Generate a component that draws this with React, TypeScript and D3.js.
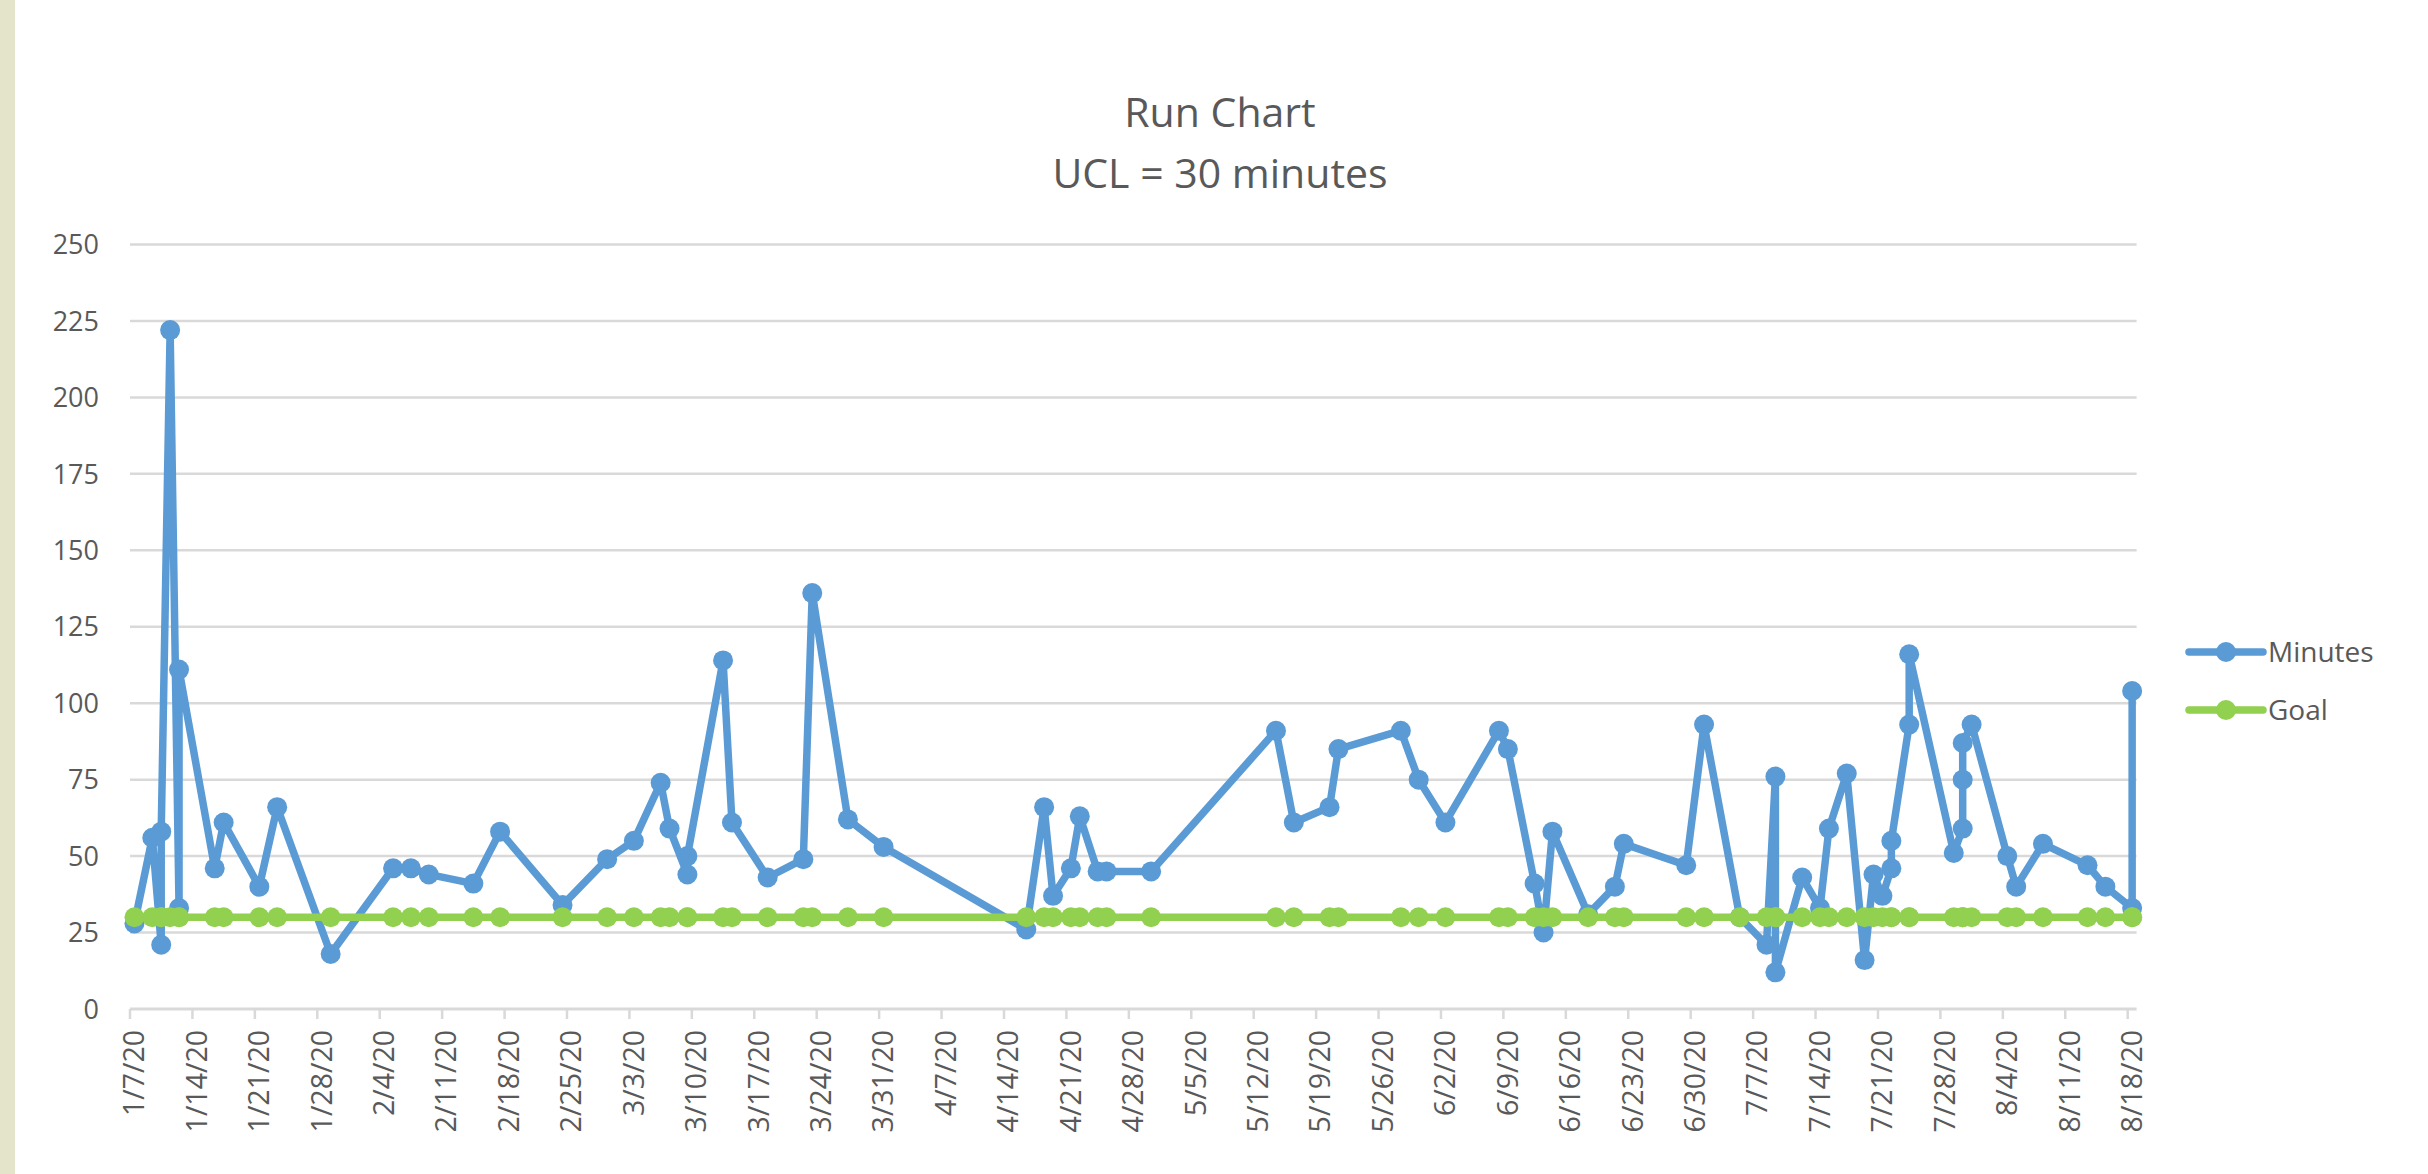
import React, { useRef, useEffect } from "react";
import { select, scaleLinear, scaleUtc, line, utcParse, utcHour } from "d3";

// run chart data
const dates = [
  "1/7/20", "1/9/20", "1/10/20", "1/10/20", "1/11/20", "1/12/20", "1/12/20", "1/16/20",
  "1/17/20", "1/21/20", "1/23/20", "1/29/20", "2/5/20", "2/7/20", "2/9/20", "2/14/20",
  "2/17/20", "2/24/20", "2/29/20", "3/3/20", "3/6/20", "3/7/20", "3/9/20", "3/9/20",
  "3/13/20", "3/14/20", "3/18/20", "3/22/20", "3/23/20", "3/27/20", "3/31/20", "4/16/20",
  "4/18/20", "4/19/20", "4/21/20", "4/22/20", "4/24/20", "4/25/20", "4/30/20", "5/14/20",
  "5/16/20", "5/20/20", "5/21/20", "5/28/20", "5/30/20", "6/2/20", "6/8/20", "6/9/20",
  "6/12/20", "6/13/20", "6/14/20", "6/18/20", "6/21/20", "6/22/20", "6/29/20", "7/1/20",
  "7/5/20", "7/8/20", "7/9/20", "7/9/20", "7/12/20", "7/14/20", "7/15/20", "7/17/20",
  "7/19/20", "7/20/20", "7/21/20", "7/22/20", "7/22/20", "7/24/20", "7/24/20", "7/29/20",
  "7/30/20", "7/30/20", "7/30/20", "7/31/20", "8/4/20", "8/5/20", "8/8/20", "8/13/20",
  "8/15/20", "8/18/20", "8/18/20",
];

const minutes = [
  28, 56, 21, 58, 222, 33, 111, 46,
  61, 40, 66, 18, 46, 46, 44, 41,
  58, 34, 49, 55, 74, 59, 44, 50,
  114, 61, 43, 49, 136, 62, 53, 26,
  66, 37, 46, 63, 45, 45, 45, 91,
  61, 66, 85, 91, 75, 61, 91, 85,
  41, 25, 58, 31, 40, 54, 47, 93,
  30, 21, 76, 12, 43, 33, 59, 77,
  16, 44, 37, 46, 55, 93, 116, 51,
  59, 75, 87, 93, 50, 40, 54, 47,
  40, 33, 104,
];

const GOAL_MINUTES = 30;

const yTicks = [0, 25, 50, 75, 100, 125, 150, 175, 200, 225, 250];

const xTickLabels = [
  "1/7/20", "1/14/20", "1/21/20", "1/28/20", "2/4/20", "2/11/20", "2/18/20", "2/25/20",
  "3/3/20", "3/10/20", "3/17/20", "3/24/20", "3/31/20", "4/7/20", "4/14/20", "4/21/20",
  "4/28/20", "5/5/20", "5/12/20", "5/19/20", "5/26/20", "6/2/20", "6/9/20", "6/16/20",
  "6/23/20", "6/30/20", "7/7/20", "7/14/20", "7/21/20", "7/28/20", "8/4/20", "8/11/20",
  "8/18/20",
];

const seriesNames = ["Minutes", "Goal"];

const WIDTH = 2428;
const HEIGHT = 1174;
const BLUE = "#5B9BD5";
const GREEN = "#92D050";
const GRID = "#D9D9D9";
const TEXT = "#595959";
const FONT = "'Open Sans', 'Noto Sans', sans-serif";
const LINE_W = 7.5;
const DOT_R = 10;

function RunChart() {
  const svgRef = useRef<SVGSVGElement>(null);

  useEffect(() => {
    const svg = select(svgRef.current);
    svg.selectAll("*").remove();

    const parse = utcParse("%m/%d/%y");
    const points = dates.map((d, i) => ({
      date: parse(d) as Date,
      minutes: minutes[i],
      goal: GOAL_MINUTES,
    }));

    const first = parse(xTickLabels[0]) as Date;
    const last = parse(xTickLabels[xTickLabels.length - 1]) as Date;

    // excel date axis: each day is a slot, points sit in the middle of it
    const xScale = scaleUtc()
      .domain([first, utcHour.offset(last, 24)])
      .range([130, 2136.6]);
    const yScale = scaleLinear().domain([0, 250]).range([1009, 244.5]);
    const px = (d: Date) => xScale(utcHour.offset(d, 12));

    // left page strip
    svg.append("rect")
      .attr("x", 0).attr("y", 0)
      .attr("width", 15).attr("height", HEIGHT)
      .attr("fill", "#E4E4CB");

    // title
    const title = svg.append("g")
      .attr("font-family", FONT)
      .attr("font-size", 41)
      .attr("fill", TEXT)
      .attr("text-anchor", "middle");
    title.append("text").attr("x", 1220).attr("y", 127).text("Run Chart");
    title.append("text").attr("x", 1220).attr("y", 188).text("UCL = 30 minutes");

    // gridlines
    svg.selectAll(".grid")
      .data(yTicks.filter(t => t > 0))
      .join("line")
      .attr("class", "grid")
      .attr("x1", xScale.range()[0])
      .attr("x2", xScale.range()[1])
      .attr("y1", t => yScale(t))
      .attr("y2", t => yScale(t))
      .attr("stroke", GRID)
      .attr("stroke-width", 2.5);

    // x axis line + ticks
    svg.append("line")
      .attr("x1", xScale.range()[0])
      .attr("x2", xScale.range()[1])
      .attr("y1", yScale(0))
      .attr("y2", yScale(0))
      .attr("stroke", GRID)
      .attr("stroke-width", 3);

    svg.selectAll(".xtick")
      .data(xTickLabels)
      .join("line")
      .attr("class", "xtick")
      .attr("x1", d => xScale(parse(d) as Date))
      .attr("x2", d => xScale(parse(d) as Date))
      .attr("y1", yScale(0))
      .attr("y2", yScale(0) + 10)
      .attr("stroke", GRID)
      .attr("stroke-width", 2.5);

    svg.selectAll(".xlabel")
      .data(xTickLabels)
      .join("text")
      .attr("class", "xlabel")
      .attr("transform", d => `translate(${xScale(parse(d) as Date)},1030) rotate(-90)`)
      .attr("text-anchor", "end")
      .attr("dy", "0.5em")
      .attr("font-family", FONT)
      .attr("font-size", 28.5)
      .attr("fill", TEXT)
      .text(d => d);

    svg.selectAll(".ylabel")
      .data(yTicks)
      .join("text")
      .attr("class", "ylabel")
      .attr("x", 99)
      .attr("y", t => yScale(t))
      .attr("dy", "0.36em")
      .attr("text-anchor", "end")
      .attr("font-family", FONT)
      .attr("font-size", 27)
      .attr("fill", TEXT)
      .text(t => t);

    // series
    const series = [
      { key: "minutes", color: BLUE },
      { key: "goal", color: GREEN },
    ];

    series.forEach(s => {
      const lineGen = line<any>()
        .x(p => px(p.date))
        .y(p => yScale(p[s.key]));

      svg.append("path")
        .datum(points)
        .attr("d", lineGen)
        .attr("fill", "none")
        .attr("stroke", s.color)
        .attr("stroke-width", LINE_W)
        .attr("stroke-linejoin", "round")
        .attr("stroke-linecap", "round");

      svg.append("g")
        .selectAll("circle")
        .data(points)
        .join("circle")
        .attr("cx", p => px(p.date))
        .attr("cy", p => yScale(p[s.key]))
        .attr("r", DOT_R)
        .attr("fill", s.color);
    });

    // legend
    const legend = svg.append("g")
      .selectAll("g")
      .data(seriesNames)
      .join("g")
      .attr("transform", (d, i) => `translate(2189,${652 + i * 58})`);

    legend.append("line")
      .attr("x1", 0).attr("x2", 74)
      .attr("y1", 0).attr("y2", 0)
      .attr("stroke", (d, i) => series[i].color)
      .attr("stroke-width", LINE_W)
      .attr("stroke-linecap", "round");

    legend.append("circle")
      .attr("cx", 37).attr("cy", 0)
      .attr("r", DOT_R)
      .attr("fill", (d, i) => series[i].color);

    legend.append("text")
      .attr("x", 79)
      .attr("y", 0)
      .attr("dy", "0.36em")
      .attr("font-family", FONT)
      .attr("font-size", 28)
      .attr("fill", TEXT)
      .text(d => d);
  }, []);

  return (
    <svg
      ref={svgRef}
      width={WIDTH}
      height={HEIGHT}
      style={{ position: "absolute", left: 0, top: 0, background: "#fff" }}
    ></svg>
  );
}

export default function App() {
  return <RunChart />;
}
